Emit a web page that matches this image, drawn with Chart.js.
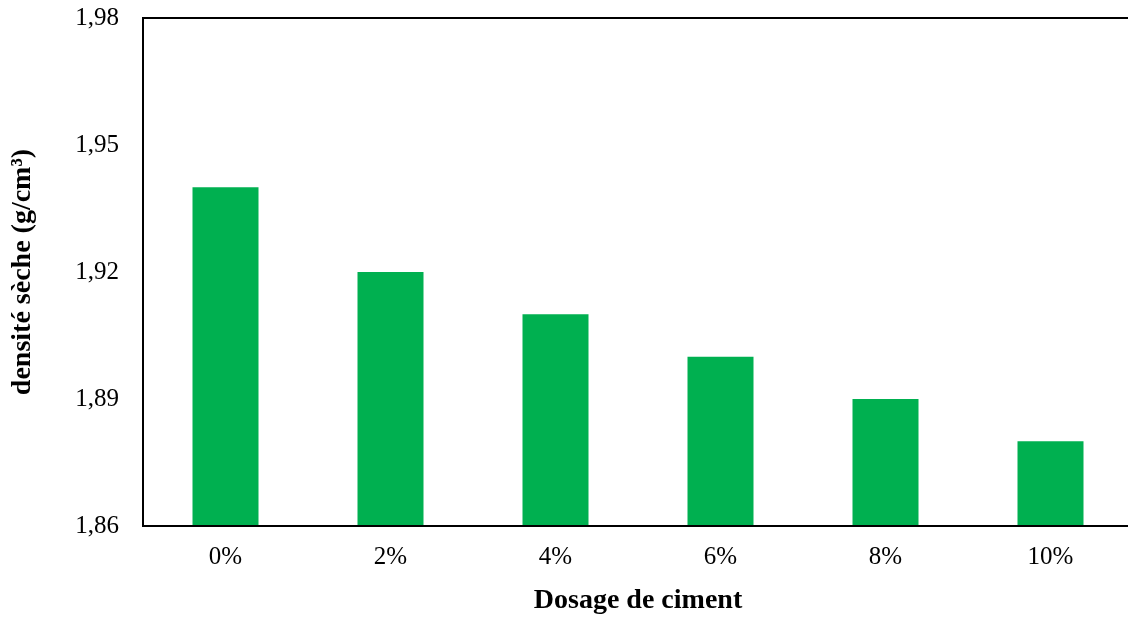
<!DOCTYPE html>
<html>
<head>
<meta charset="utf-8">
<script src="https://cdn.jsdelivr.net/npm/chart.js"></script>
<style>
  html, body { margin: 0; padding: 0; background: #fff; overflow: hidden; }
</style>
</head>
<body>
<canvas id="myChart" width="1140" height="622"></canvas>
<script>
const dosages = ['0%', '2%', '4%', '6%', '8%', '10%'];
const densites = [1.94, 1.92, 1.91, 1.90, 1.89, 1.88];
const yTicks = [1.86, 1.89, 1.92, 1.95, 1.98];

// cadre autour de la zone du graphe (le bord droit sort de l'image)
const cadre = {
  id: 'cadre',
  afterDatasetsDraw(chart) {
    const a = chart.chartArea;
    const c = chart.ctx;
    c.save();
    c.strokeStyle = '#000';
    c.lineWidth = 2;
    c.beginPath();
    c.moveTo(a.right, a.bottom);
    c.lineTo(a.right, a.top);
    c.lineTo(a.left, a.top);
    c.lineTo(a.left, a.bottom);
    c.lineTo(a.right, a.bottom);
    c.stroke();
    c.restore();
  }
};

const ctx = document.getElementById('myChart').getContext('2d');
new Chart(ctx, {
  type: 'bar',
  data: {
    labels: dosages,
    datasets: [{
      data: densites,
      backgroundColor: '#00B050',
      borderWidth: 0,
      barPercentage: 0.4,
      categoryPercentage: 1
    }]
  },
  options: {
    responsive: false,
    animation: false,
    layout: { padding: { top: 18, right: 7, left: 0, bottom: 0 } },
    plugins: { legend: { display: false }, tooltip: { enabled: false } },
    scales: {
      x: {
        grid: { display: false, drawTicks: false },
        border: { display: false },
        ticks: { color: '#000', font: { family: 'Liberation Serif', size: 25 }, padding: 16 },
        title: {
          display: true, text: 'Dosage de ciment', color: '#000',
          font: { family: 'Liberation Serif', size: 28, weight: 'bold' }, padding: { top: 16 }
        },
        afterFit(s) { s.height = 96; s.paddingLeft = 0; s.paddingRight = 0; }
      },
      y: {
        min: 1.86, max: 1.98,
        afterBuildTicks(s) { s.ticks = yTicks.map(v => ({ value: v })); },
        grid: { display: false, drawTicks: false },
        border: { display: false },
        ticks: {
          color: '#000', font: { family: 'Liberation Serif', size: 25 }, padding: 24,
          callback: v => v.toFixed(2).replace('.', ',')
        },
        title: {
          display: true, text: 'densité sèche (g/cm³)', color: '#000',
          font: { family: 'Liberation Serif', size: 28, weight: 'bold' }, padding: { top: 6 }
        },
        afterFit(s) { s.width = 143; s.paddingTop = 0; s.paddingBottom = 0; }
      }
    }
  },
  plugins: [cadre]
});
</script>
</body>
</html>
